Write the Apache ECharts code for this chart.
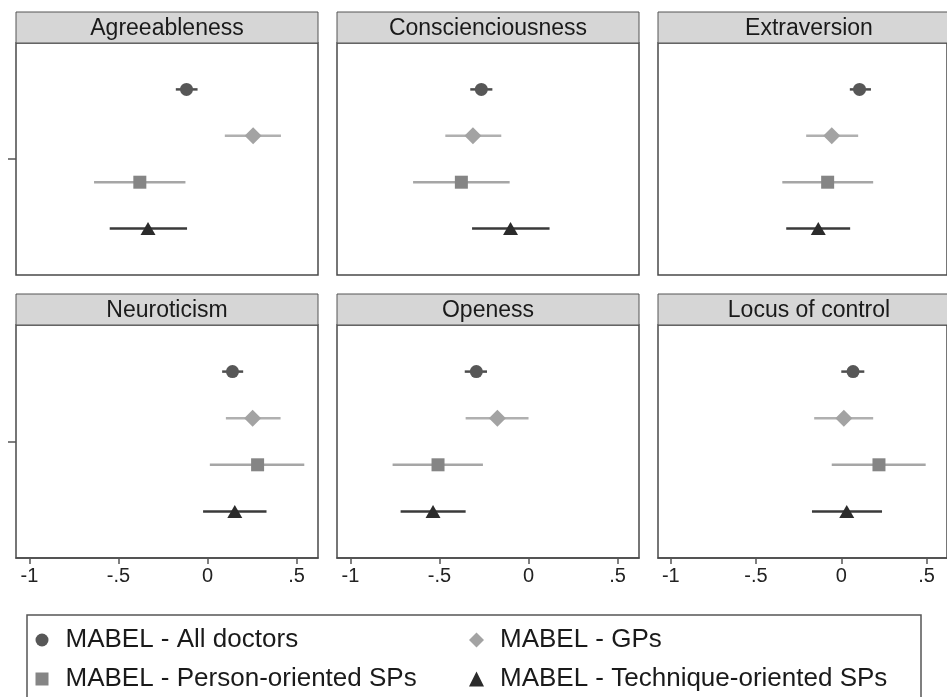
<!DOCTYPE html>
<html>
<head>
<meta charset="utf-8">
<script src="https://cdn.jsdelivr.net/npm/echarts@6/dist/echarts.min.js"></script>
<style>
html,body{margin:0;padding:0;background:#fff;}
#chart{width:947px;height:697px;}
</style>
</head>
<body>
<div id="chart"></div>
<script>
// ---- Data ----
const panels = ['Agreeableness', 'Conscienciousness', 'Extraversion', 'Neuroticism', 'Openess', 'Locus of control'];
const groups = ['MABEL - All doctors', 'MABEL - GPs', 'MABEL - Person-oriented SPs', 'MABEL - Technique-oriented SPs'];
const groupRows = [4, 3, 2, 1];

const allDoctorsEst = [-0.118, -0.265, 0.107, 0.140, -0.293, 0.069];
const allDoctorsLo  = [-0.178, -0.327, 0.050, 0.082, -0.358, 0.000];
const allDoctorsHi  = [-0.056, -0.203, 0.174, 0.200, -0.233, 0.135];

const gpsEst = [0.256, -0.312, -0.056, 0.253, -0.175, 0.015];
const gpsLo  = [0.097, -0.467, -0.206, 0.103, -0.353, -0.159];
const gpsHi  = [0.412, -0.153, 0.099, 0.410, 0.000, 0.187];

const personEst = [-0.380, -0.377, -0.080, 0.281, -0.508, 0.221];
const personLo  = [-0.637, -0.648, -0.346, 0.013, -0.763, -0.056];
const personHi  = [-0.124, -0.106, 0.187, 0.543, -0.256, 0.495];

const techEst = [-0.334, -0.101, -0.135, 0.153, -0.536, 0.032];
const techLo  = [-0.549, -0.317, -0.323, -0.025, -0.718, -0.172];
const techHi  = [-0.115, 0.118, 0.052, 0.331, -0.353, 0.239];

const xTickValues = [-1, -0.5, 0, 0.5];
const xTickLabels = ['-1', '-.5', '0', '.5'];

// ---- Styling / layout ----
const FONT = "'Liberation Sans', Arial, sans-serif";
const estimates = [allDoctorsEst, gpsEst, personEst, techEst];
const lows = [allDoctorsLo, gpsLo, personLo, techLo];
const highs = [allDoctorsHi, gpsHi, personHi, techHi];
const symbols = ['circle', 'diamond', 'rect', 'triangle'];
const symbolSizes = [13, 17, 13, [15, 13]];
const markerColors = ['#575757', '#a3a3a3', '#858585', '#2b2b2b'];
const lineColors = ['#4d4d4d', '#b0b0b0', '#a6a6a6', '#3a3a3a'];

const colLefts = [16, 337, 658];
const panelW = 302;
const rowTops = [43, 325];
const rowHeights = [232, 233];
const headerH = 31;

const grids = [], xAxes = [], yAxes = [], series = [], graphics = [];

panels.forEach((name, p) => {
  const r = Math.floor(p / 3), c = p % 3;
  const bottomRow = r === 1;
  grids.push({
    left: colLefts[c], top: rowTops[r], width: panelW, height: rowHeights[r],
    show: true, borderColor: '#4a4a4a', borderWidth: 1.5, backgroundColor: '#fff', containLabel: false
  });
  xAxes.push({
    type: 'value', gridIndex: p, min: -1.075, max: 0.62,
    splitLine: { show: false },
    axisLine: { show: bottomRow, onZero: false, lineStyle: { color: '#4a4a4a', width: 1.5 } },
    axisTick: { show: bottomRow, customValues: xTickValues, length: 6, lineStyle: { color: '#555', width: 1.5 } },
    axisLabel: {
      show: bottomRow, customValues: xTickValues, margin: 8,
      fontSize: 20, color: '#222', fontFamily: FONT,
      formatter: v => { const i = xTickValues.findIndex(t => Math.abs(t - v) < 1e-9); return i >= 0 ? xTickLabels[i] : ''; }
    }
  });
  yAxes.push({
    type: 'value', gridIndex: p, min: 0, max: 5, position: 'left',
    splitLine: { show: false },
    axisLine: { show: false, onZero: false },
    axisTick: { show: c === 0, customValues: [2.5], length: 8, lineStyle: { color: '#555', width: 1.5 } },
    axisLabel: { show: false }
  });
  // header strip
  graphics.push({
    type: 'rect', z: 1,
    shape: { x: colLefts[c], y: rowTops[r] - headerH, width: panelW, height: headerH },
    style: { fill: '#d6d6d6', stroke: '#555', lineWidth: 1 }
  });
  graphics.push({
    type: 'text', z: 2,
    x: colLefts[c] + panelW / 2, y: rowTops[r] - headerH / 2 + 1,
    style: { text: name, fill: '#1a1a1a', font: `23px ${FONT}`, textAlign: 'center', textVerticalAlign: 'middle' }
  });
  // CI lines and markers
  groups.forEach((g, k) => {
    series.push({
      type: 'custom', name: 'ci-' + g, xAxisIndex: p, yAxisIndex: p, z: 2, silent: true,
      encode: { x: [0, 1], y: 2 },
      data: [[lows[k][p], highs[k][p], groupRows[k]]],
      renderItem: (params, api) => {
        const y = api.value(2);
        const a = api.coord([api.value(0), y]);
        const b = api.coord([api.value(1), y]);
        return { type: 'line', shape: { x1: a[0], y1: a[1], x2: b[0], y2: b[1] },
                 style: { stroke: lineColors[k], lineWidth: 2.5 } };
      }
    });
    series.push({
      type: 'scatter', name: g, xAxisIndex: p, yAxisIndex: p, z: 3,
      symbol: symbols[k], symbolSize: symbolSizes[k],
      itemStyle: { color: markerColors[k], opacity: 1 },
      data: [[estimates[k][p], groupRows[k]]]
    });
  });
});

// legend frame
graphics.push({
  type: 'rect', z: 0,
  shape: { x: 27, y: 615, width: 894, height: 130 },
  style: { fill: '#fff', stroke: '#555', lineWidth: 1.5 }
});

function legendItem(k) {
  return { name: groups[k], icon: symbols[k], itemStyle: { color: markerColors[k] } };
}
const legendCommon = {
  orient: 'vertical', top: 627, padding: 0, itemGap: 13,
  itemWidth: 13, itemHeight: 13, selectedMode: false,
  textStyle: { fontSize: 26, lineHeight: 26, color: '#1a1a1a', fontFamily: FONT, padding: [0, 0, 0, 12] }
};

const chart = echarts.init(document.getElementById('chart'), null, { renderer: 'canvas' });
chart.setOption({
  backgroundColor: '#fff',
  animation: false,
  textStyle: { fontFamily: FONT },
  grid: grids,
  xAxis: xAxes,
  yAxis: yAxes,
  graphic: graphics,
  legend: [
    Object.assign({}, legendCommon, { left: 35.5, data: [legendItem(0), legendItem(2)] }),
    Object.assign({}, legendCommon, {
      left: 469, itemWidth: 15, itemHeight: 15,
      textStyle: Object.assign({}, legendCommon.textStyle, { padding: [0, 0, 0, 11] }),
      data: [legendItem(1), legendItem(3)]
    })
  ],
  series: series
});
</script>
</body>
</html>
